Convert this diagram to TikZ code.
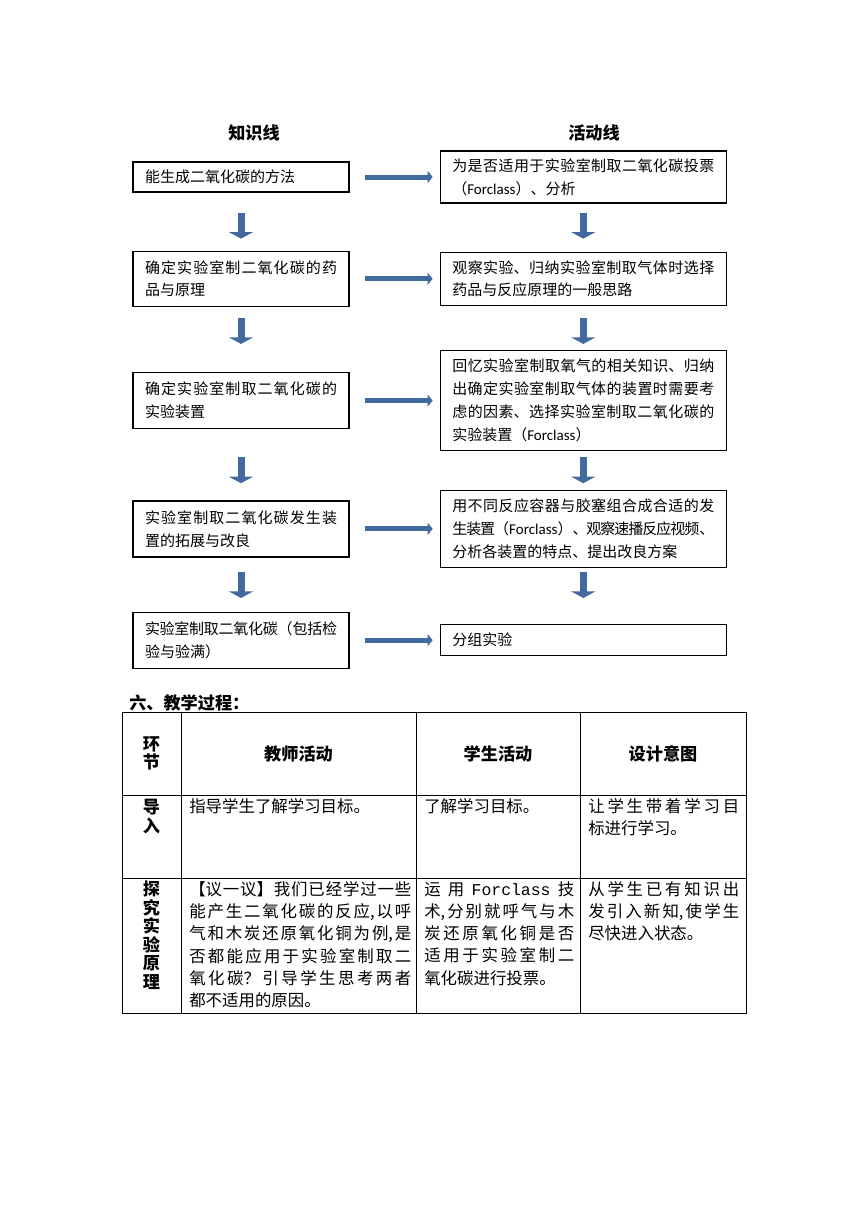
\documentclass[tikz,border=0pt]{standalone}
\usepackage{fontspec}
\setmainfont{Noto Sans CJK SC}
\newfontfamily\latf{Carlito}
\newfontfamily\monof{Liberation Mono}
\usetikzlibrary{arrows.meta, positioning}
\XeTeXlinebreaklocale "zh"
\XeTeXlinebreakskip=0pt plus 3pt minus 1pt
\definecolor{arrowblue}{RGB}{66,106,158}
\newcommand{\fcl}{{\latf Forclass}}

\begin{document}
\begin{tikzpicture}[
  x=0.7pt, y=-0.7pt,
  flowtext/.style={font=\fontsize{10.5}{16}\selectfont, align=justify, inner xsep=8.4pt, inner ysep=0pt},
  knowbox/.style={draw, line width=0.9pt, flowtext, text width=134.4pt, minimum height=#1},
  actbox/.style={draw, line width=0.9pt, flowtext, text width=183.4pt, minimum height=#1},
  linehead/.style={font=\bfseries\fontsize{12}{14}\selectfont},
  rightarrow/.style={-{Triangle[width=8.4pt, length=3.5pt]}, line width=3.5pt, arrowblue},
  downarrow/.style={-{Triangle[width=16.8pt, length=4.6pt]}, line width=4.9pt, arrowblue},
  cell/.style={font=\fontsize{11.5}{15.6}\selectfont, align=justify, anchor=north west, inner sep=0pt},
  headcell/.style={font=\bfseries\fontsize{12}{12.5}\selectfont, align=center, inner sep=0pt},
  stagecell/.style={font=\bfseries\fontsize{12}{12.9}\selectfont, align=center, anchor=north, inner sep=0pt},
]
\useasboundingbox (0,0) rectangle (860,1216);

% two lines
\node[linehead] (khead) at (254,133) {知识线};
\node[linehead] (ahead) at (594,133) {活动线};

\node[knowbox=21pt] (k1) at (241,177) {能生成二氧化碳的方法};
\node[knowbox=38.5pt, below=40.6pt of k1] (k2) {确定实验室制二氧化碳的药\linebreak 品与原理};
\node[knowbox=39.2pt, below=45.5pt of k2] (k3) {确定实验室制取二氧化碳的\linebreak 实验装置};
\node[knowbox=39.2pt, below=49.7pt of k3] (k4) {实验室制取二氧化碳发生装\linebreak 置的拓展与改良};
\node[knowbox=39.2pt, below=37.8pt of k4] (k5) {实验室制取二氧化碳（包括检\linebreak 验与验满）};

\node[actbox=36.4pt, right=63pt of k1] (a1) {为是否适用于实验室制取二氧化碳投票\linebreak （\fcl）、分析};
\node[actbox=37.1pt, right=63pt of k2] (a2) {观察实验、归纳实验室制取气体时选择\linebreak 药品与反应原理的一般思路};
\node[actbox=70pt, right=63pt of k3] (a3) {回忆实验室制取氧气的相关知识、归纳\linebreak 出确定实验室制取气体的装置时需要考\linebreak 虑的因素、选择实验室制取二氧化碳的\linebreak 实验装置（\fcl）};
\node[actbox=53.9pt, right=63pt of k4] (a4) {用不同反应容器与胶塞组合成合适的发\linebreak 生装置（\fcl）、观察速播反应视频、\linebreak 分析各装置的特点、提出改良方案};
\node[actbox=21.7pt, right=63pt of k5] (a5) {分组实验};

\foreach \u in {1,...,5}
  \draw[rightarrow] ([xshift=10.5pt]k\u.east) -- ([xshift=-4.9pt]a\u.west);
\foreach \u/\gap in {1/6.3pt, 2/8.4pt, 3/4.2pt, 4/2.8pt} {
  \coordinate (t\u) at ([yshift=-\gap]a\u.south);
  \draw[downarrow] (t\u) -- ++(0,26);
  \draw[downarrow] (t\u -| k\u.south) -- ++(0,26);
}

% teaching process table
\node[anchor=west, font=\bfseries\fontsize{12}{14}\selectfont, inner sep=0pt] (proc) at (129,703) {六、教学过程：};
\draw[line width=0.6pt] (122,712) rectangle (746,1013);
\foreach \x in {181,416,580}
  \draw[line width=0.6pt] (\x,712) -- (\x,1013);
\foreach \y in {795,878}
  \draw[line width=0.6pt] (122,\y) -- (746,\y);

\node[headcell] (h0) at (151.5,753.5) {环\\节};
\node[headcell] (h1) at (298.5,753.5) {教师活动};
\node[headcell] (h2) at (498,753.5) {学生活动};
\node[headcell] (h3) at (663,753.5) {设计意图};

\node[stagecell] (s1) at (151.5,799) {导\\入};
\node[cell, text width=155.4pt] (t1) at (189,798) {指导学生了解学习目标。};
\node[cell, text width=105pt] (p1) at (424,798) {了解学习目标。};
\node[cell, text width=105.7pt] (d1) at (588,798) {让学生带着学习目\linebreak 标进行学习。};

\node[stagecell] (s2) at (151.5,881) {探\\究\\实\\验\\原\\理};
\node[cell, text width=155.4pt] (t2) at (189,881) {【议一议】我们已经学过一些\linebreak 能产生二氧化碳的反应,以呼\linebreak 气和木炭还原氧化铜为例,是\linebreak 否都能应用于实验室制取二\linebreak 氧化碳？引导学生思考两者\linebreak 都不适用的原因。};
\node[cell, text width=105pt] (p2) at (424,881) {运\hfill 用\hfill {\monof Forclass}\hfill 技\linebreak 术,分别就呼气与木\linebreak 炭还原氧化铜是否\linebreak 适用于实验室制二\linebreak 氧化碳进行投票。};
\node[cell, text width=105.7pt] (d2) at (588,881) {从学生已有知识出\linebreak 发引入新知,使学生\linebreak 尽快进入状态。};
\end{tikzpicture}
\end{document}
